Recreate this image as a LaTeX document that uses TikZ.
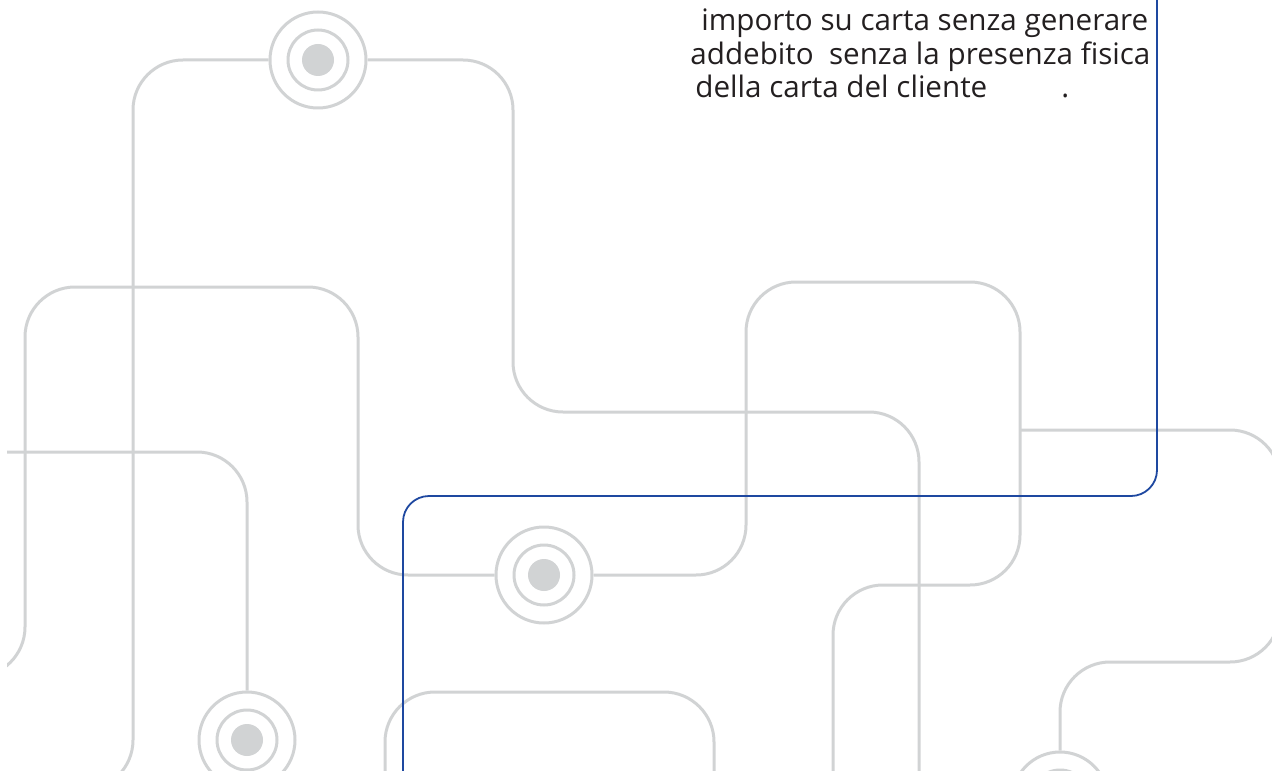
\documentclass[tikz,border=0pt]{standalone}
\usepackage{fontspec}
\setmainfont{Open Sans}
\definecolor{linegrey}{RGB}{209,211,212}
\definecolor{edgeblue}{RGB}{30,72,160}
\definecolor{inkgrey}{RGB}{35,31,32}

\begin{document}
\begin{tikzpicture}[x=0.5pt, y=-0.5pt]
\tikzstyle{wire}=[draw=linegrey, line width=1.5pt, rounded corners=25pt]
\tikzstyle{blueedge}=[draw=edgeblue, line width=0.9pt, rounded corners=13pt]
\tikzstyle{outer}=[draw=linegrey, line width=1.5pt, fill=white, circle, inner sep=0pt, minimum size=48pt]
\tikzstyle{ring}=[draw=linegrey, line width=1.5pt, circle, inner sep=0pt, minimum size=30pt]
\tikzstyle{dot}=[fill=linegrey, circle, inner sep=0pt, minimum size=16pt]
\tikzstyle{txt}=[anchor=base west, inner sep=0pt, text=inkgrey, font=\fontsize{14.8pt}{18pt}\selectfont]
\useasboundingbox (0,0) rectangle (1272,770);
\begin{scope}
\clip (7,0) rectangle (1272,770);
\node[outer] (t1) at (318,60) {};
\node[outer] (t2) at (544,575) {};
\node[outer] (t3) at (247,740) {};
\node[outer] (t4) at (1060,800) {};
\foreach \t in {t1,t2,t3,t4} {
  \node[ring] (\t-r) at (\t) {};
  \node[dot] (\t-d) at (\t) {};
}
\coordinate (j1) at (1020,430);
\draw[wire] (t1.west) -- (133,60) -- (133,790) -- (83,790);
\draw[wire] (t1.east) -- (513,60) -- (513,412) -- (919,412) -- (919,790);
\draw[wire] (-40,677) -- (25,677) -- (25,287) -- (358,287) -- (358,575) -- (t2.west);
\draw[wire] (t2.east) -- (746,575) -- (746,282) -- (1020,282) -- (1020,585) -- (833,585) -- (833,790);
\draw[wire] (j1) -- (1280,430) -- (1280,662) -- (1060,662) -- (t4.north);
\draw[wire] (-10,452) -- (247,452) -- (t3.north);
\draw[wire] (385,790) -- (385,692) -- (714,692) -- (714,790);
\draw[blueedge] (403,790) -- (403,496) -- (1157,496) -- (1157,-10);
\end{scope}
\node[txt] (l1) at (701,31) {importo su carta senza generare};
\node[txt] (l2) at (690,65) {addebito\ \ senza la presenza fisica};
\node[txt] (l3) at (695,98) {della carta del cliente\hspace{37pt}.};
\end{tikzpicture}
\end{document}
